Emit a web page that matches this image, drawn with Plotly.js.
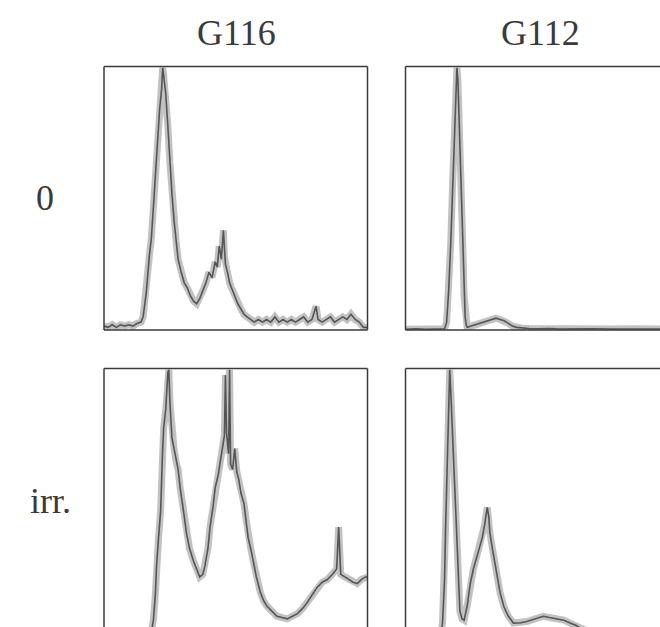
<!DOCTYPE html>
<html>
<head>
<meta charset="utf-8">
<script src="https://cdn.plot.ly/plotly-3.0.1.min.js"></script>
<style>html,body{margin:0;padding:0;background:#fff;}#chart{width:660px;height:627px;}</style>
</head>
<body>
<div id="chart"></div>
<script>
// Column and row labels
const columns = ["G116", "G112"];
const rows = ["0", "irr."];

// DNA content histograms (channel, relative cell count %)
const g116_ctrl_ch = [0,4,8,12,16,20,24,28,32,36,38,41,44,46,48,50,52,54,56,57,58,60,62,64,66,68,70,72,75,78,81,84,87,90,93,96,99,102,105,108,110,112,114,116,117,118,120,122,124,126,128,130,133,136,139,142,146,150,154,158,162,166,170,174,178,182,186,190,194,198,202,206,208,212,216,220,224,228,232,236,240,244,248,252,256];
const g116_ctrl_n  = [1.5,1,2,1,2,1.5,2,1.5,2.5,3,5,14,28,35,47,60,71,84,92,100,97,90,78,64,52,42,34,27,22,18,16,13,11,10,12,15,18,22,20,26,24,32,27,38,28,25,22,18,16,14,12,10,8,6,5,4,3,4,3,4,3,5,3,4,3,4,3,4,5,3,4,9,4,3,4,5,3,4,5,4,6,4,3,1,1];

const g112_ctrl_ch = [0,10,20,30,38,40,42,44,46,47,48,49,50,51,52,53,54,55,56,57,58,59,60,64,68,72,76,80,84,88,92,96,100,104,108,112,120,130,140,150,160,170,180,200,220,248];
const g112_ctrl_n  = [0.3,0.5,0.3,0.5,0.5,3,15,33,58,68,82,92,100,95,82,72,57,45,28,13,5,2,1,1.5,2,2.5,3,3.5,4,4.5,4,3.5,2.5,1.5,1,0.8,0.6,0.5,0.6,0.4,0.5,0.4,0.5,0.4,0.5,0.4];

const g116_irr_ch = [46,48,50,51,53,55,57,58,60,62,63,64,66,68,70,72,74,76,78,80,83,87,90,93,96,98,101,103,106,108,111,113,115,117,118,119,121,122,123,125,127,129,131,133,136,138,140,143,145,148,152,155,158,163,168,173,178,183,188,193,197,202,207,212,217,222,226,228,230,234,238,242,246,250,254,256];
const g116_irr_n  = [0,4.5,15,25,36,46,70,78,85,99,100,88,74,70,65,62,55,50,44,38,32,27,24,21,22,25,32,40,48,55,60,65,70,75,98,76,68,100,64,62,70,61,58,53,49,43,36,31,27,21,15,12,10,8,6,5.5,5,6,7,9,11,14,17,19,20,22,24,40,22,21,20,19,18.5,20,21,21];

const g112_irr_ch = [30,35,36,38,39,40.6,42,43,44,45.5,47.7,50.3,52.9,55,57,60,63,66,70,74.7,77,79.5,81,82,84.4,87,89.3,92,95.7,100,105,112,118,126,134,140,148,154,160,166,170,176,190,210,248];
const g112_irr_n  = [0,1,3.5,20,40,65,85,100,92,78,59,34,8,5,4.5,10,18.5,24,30,36,41,47.5,44,38,32,26,20,15,9.6,6,3.4,3.5,4,5,6,5.5,5,4.5,3.4,2.5,1.5,0.5,0.3,0.3,0.3];

const panels = [
  {ch: g116_ctrl_ch, n: g116_ctrl_n, xa: "x",  ya: "y"},
  {ch: g112_ctrl_ch, n: g112_ctrl_n, xa: "x2", ya: "y2"},
  {ch: g116_irr_ch,  n: g116_irr_n,  xa: "x3", ya: "y3"},
  {ch: g112_irr_ch,  n: g112_irr_n,  xa: "x4", ya: "y4"}
];

const traces = [];
panels.forEach(p => {
  traces.push({x: p.ch, y: p.n, xaxis: p.xa, yaxis: p.ya, type: "scatter", mode: "lines",
    line: {color: "rgba(120,120,120,0.45)", width: 7}, hoverinfo: "skip", showlegend: false});
  traces.push({x: p.ch, y: p.n, xaxis: p.xa, yaxis: p.ya, type: "scatter", mode: "lines",
    line: {color: "#555", width: 1.6}, showlegend: false});
});

const W = 660, H = 627;
const L = [104/W, 367.5/W], R = [405.5/W, 1];
const T = [1 - 330/H, 1 - 66.5/H], B = [0, 1 - 368.5/H];

function ax(dom, rng) {
  return {domain: dom, range: rng, showgrid: false, zeroline: false, showticklabels: false,
          ticks: "", showline: false, fixedrange: true};
}

const lc = "#3a3a3a", lw = 1.5;
function seg(x0, y0, x1, y1) {
  return {type: "line", xref: "paper", yref: "paper", x0: x0, y0: y0, x1: x1, y1: y1,
          line: {color: lc, width: lw}};
}
const shapes = [
  // panel 1 full box
  seg(L[0], T[1], L[1], T[1]), seg(L[0], T[0], L[1], T[0]), seg(L[0], T[0], L[0], T[1]), seg(L[1], T[0], L[1], T[1]),
  // panel 2: top, bottom, left
  seg(R[0], T[1], 1.05, T[1]), seg(R[0], T[0], 1.05, T[0]), seg(R[0], T[0], R[0], T[1]),
  // panel 3: top, left, right
  seg(L[0], B[1], L[1], B[1]), seg(L[0], -0.05, L[0], B[1]), seg(L[1], -0.05, L[1], B[1]),
  // panel 4: top, left
  seg(R[0], B[1], 1.05, B[1]), seg(R[0], -0.05, R[0], B[1])
];

const tf = {family: "Liberation Serif, Times New Roman, serif", size: 36, color: "#3a3a3a"};
function lab(text, px, py) {
  return {text: text, xref: "paper", yref: "paper", x: px / W, y: 1 - py / H,
          xanchor: "center", yanchor: "middle", showarrow: false, font: tf};
}
const annotations = [
  lab(columns[0], 236.5, 33),
  lab(columns[1], 540.5, 33),
  lab(rows[0], 45, 198),
  lab(rows[1], 50, 501)
];

const layout = {
  width: W, height: H,
  margin: {l: 0, r: 0, t: 0, b: 0},
  paper_bgcolor: "#fff", plot_bgcolor: "#fff",
  showlegend: false,
  xaxis: ax(L, [0, 256]), yaxis: ax(T, [0, 100.5]),
  xaxis2: ax(R, [0, 247.5]), yaxis2: ax(T, [0, 100.5]),
  xaxis3: ax(L, [0, 256]), yaxis3: ax(B, [1.9, 100.5]),
  xaxis4: ax(R, [0, 247.5]), yaxis4: ax(B, [1.9, 100.5]),
  shapes: shapes,
  annotations: annotations
};
layout.yaxis.anchor = "x"; layout.yaxis2.anchor = "x2"; layout.yaxis3.anchor = "x3"; layout.yaxis4.anchor = "x4";
layout.xaxis.anchor = "y"; layout.xaxis2.anchor = "y2"; layout.xaxis3.anchor = "y3"; layout.xaxis4.anchor = "y4";

Plotly.newPlot("chart", traces, layout, {displayModeBar: false, staticPlot: true});
</script>
</body>
</html>
